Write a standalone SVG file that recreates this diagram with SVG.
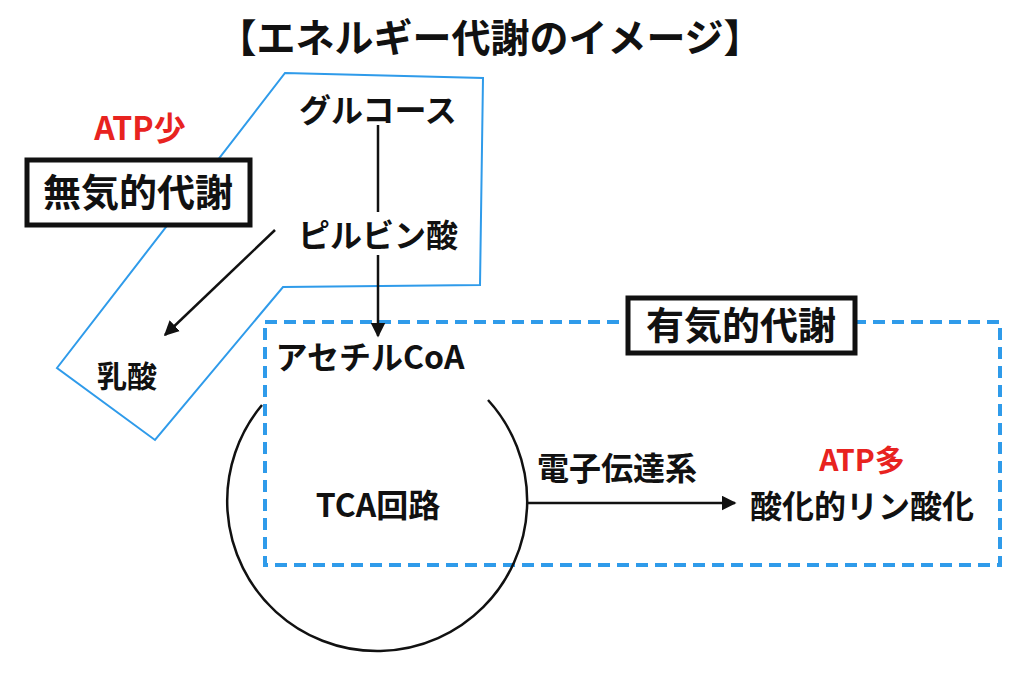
<svg xmlns="http://www.w3.org/2000/svg" width="1024" height="689" viewBox="0 0 1024 689">
<style>
text{font-family:"Noto Sans CJK JP","Noto Sans",sans-serif;font-weight:bold;fill:#111;text-anchor:middle}
.c{stroke:#111;stroke-width:2.5;fill:none}
.red{fill:#e8231f}
.box{fill:#fff;stroke:#111;stroke-width:5}
</style>
<defs><marker id="a" viewBox="0 0 10 10" refX="9" refY="5" markerWidth="6" markerHeight="6" orient="auto"><path d="M0,0L10,5L0,10z" fill="#111"/></marker></defs>
<rect width="1024" height="689" fill="#fff"/>
<text x="490" y="52" font-size="39">【エネルギー代謝のイメージ】</text>
<polygon points="285,73 483,78 480,285 283,287 155,440 57,368" fill="none" stroke="#2f9bea" stroke-width="2"/>
<rect x="265" y="322" width="735" height="243" fill="none" stroke="#2f9bea" stroke-width="4" stroke-dasharray="12,7"/>
<g id="connectors">
<line class="c" x1="378" y1="125" x2="378" y2="212"/>
<line class="c" x1="378" y1="255" x2="378" y2="336" marker-end="url(#a)"/>
<line class="c" x1="275" y1="230" x2="165" y2="335" marker-end="url(#a)"/>
<path class="c" d="M262 405 A150 150 0 1 0 488 400"/>
<line class="c" x1="528" y1="503" x2="735" y2="503" marker-end="url(#a)"/>
</g>
<g id="glucose"><text x="378" y="122" font-size="32">グルコース</text></g>
<g id="pyruvate"><text x="378" y="247" font-size="32">ピルビン酸</text></g>
<g id="lactate"><text x="127" y="387" font-size="30">乳酸</text></g>
<g id="acetyl"><text x="370" y="369" font-size="32">アセチルCoA</text></g>
<g id="tca"><text x="378" y="517" font-size="32">TCA回路</text></g>
<g id="etc"><text x="617" y="480" font-size="32">電子伝達系</text></g>
<g id="oxphos"><text x="862" y="471" font-size="30" class="red">ATP多</text><text x="862" y="518" font-size="32">酸化的リン酸化</text></g>
<g id="anaerobic"><text x="140" y="140" font-size="32" class="red">ATP少</text><rect class="box" x="27" y="160" width="223" height="65"/><text x="138" y="206" font-size="38">無気的代謝</text></g>
<g id="aerobic"><rect class="box" x="628" y="298" width="227" height="55"/><text x="741" y="339" font-size="38">有気的代謝</text></g>
</svg>
